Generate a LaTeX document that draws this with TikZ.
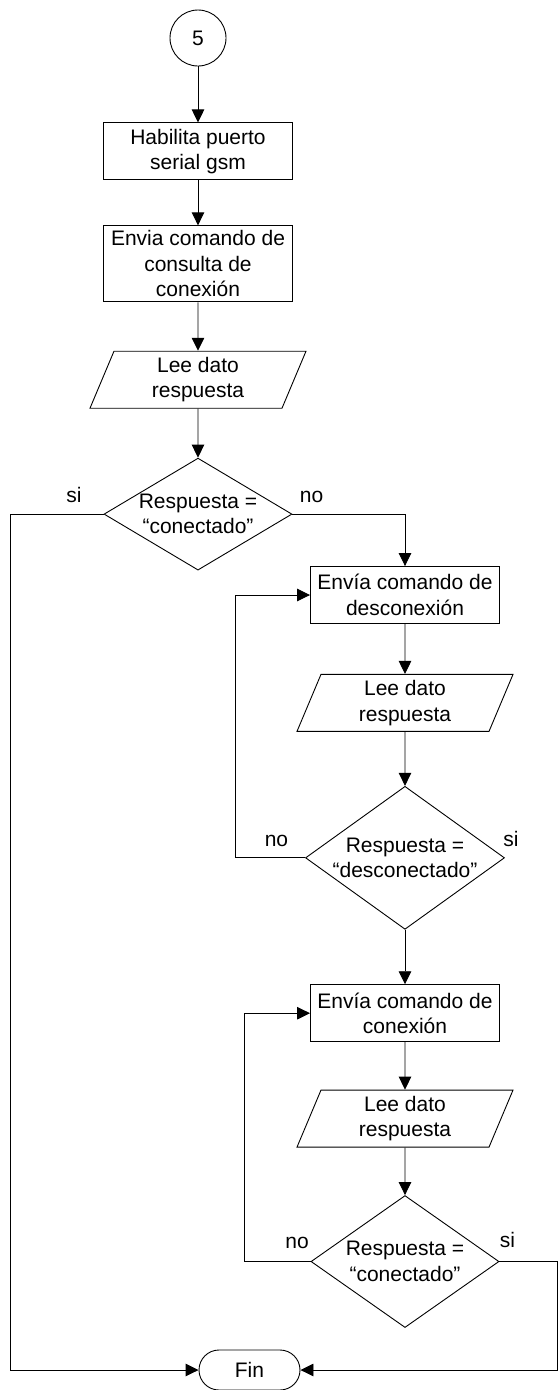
\documentclass[tikz,border=0pt]{standalone}
\usepackage{fontspec}
\setmainfont{Liberation Sans}
\usetikzlibrary{positioning,shapes.geometric,arrows.meta}
\newcommand{\zw}[1]{\makebox[0pt]{#1}}
\tikzset{
flow/.style={
  draw,
  line width=0.9pt,
  font=\fontsize{21}{25.5}\selectfont,
  align=center
  },
proc/.style={
  flow,
  rectangle,
  minimum width=189pt,
  minimum height=57pt,
  inner sep=1pt
  },
dat/.style={
  flow,
  trapezium,
  trapezium left angle=63,
  trapezium right angle=117,
  trapezium stretches body,
  minimum width=216pt,
  minimum height=57pt,
  inner sep=1pt
  },
dec/.style 2 args={
  flow,
  diamond,
  minimum width=#1,
  minimum height=#2,
  inner sep=0pt
  },
conn/.style={
  flow,
  circle,
  minimum size=56pt,
  inner sep=0pt
  },
term/.style={
  flow,
  rectangle,
  rounded corners=20pt,
  minimum width=101pt,
  minimum height=40pt,
  inner sep=0pt
  },
lbl/.style={
  font=\fontsize{21}{25.5}\selectfont,
  anchor=base,
  inner sep=0pt
  },
line/.style={line width=0.9pt}
}

\begin{document}
\begin{tikzpicture}[x=1pt,y=1pt,>={Triangle[length=13pt,width=12.5pt]}]

\useasboundingbox (0,0) rectangle (558,-1390);

\node[conn] (con5) at (198,-38) {5};
\node[proc,below=56pt of con5] (box1) {Habilita puerto\\serial gsm};
\node[proc,minimum height=76pt,below=45pt of box1] (box2) {Envia comando de\\consulta de\\conexión};
\node[dat,below=48.5pt of box2] (dat1) {Lee dato\\respuesta};
\node[dec={188pt}{112pt},below=49pt of dat1] (dec1) {\zw{Respuesta =}\\\zw{“conectado”}};

\node[proc] (box3) at (405,-595) {Envía comando de\\desconexión};
\node[dat,below=50pt of box3] (dat2) {Lee dato\\respuesta};
\node[dec={199pt}{143pt},below=54pt of dat2] (dec2) {\zw{Respuesta =}\\\zw{“desconectado”}};

\node[proc,below=54.5pt of dec2] (box4) {Envía comando de\\conexión};
\node[dat,below=47.5pt of box4] (dat3) {Lee dato\\respuesta};
\node[dec={188pt}{132pt},below=47.5pt of dat3] (dec3) {\zw{Respuesta =}\\\zw{“conectado”}};

\node[term] (fin) at (249.5,-1370) {Fin};

\coordinate (railL) at (10,0);
\coordinate (railA) at (235,0);
\coordinate (railB) at (244,0);
\coordinate (railR) at (557,0);

\node[lbl] (si1) at (74,-502.5) {si};
\node[lbl] (no1) at (311.5,-502.5) {no};
\node[lbl] (no2) at (276.5,-846.5) {no};
\node[lbl] (si2) at (511,-846.5) {si};
\node[lbl] (no3) at (297,-1248) {no};
\node[lbl] (si3) at (507.5,-1247) {si};

\draw[line,->] (con5) -- (box1);
\draw[line,->] (box1) -- (box2);
\draw[line,->] (box2) -- (dat1);
\draw[line,->] (dat1) -- (dec1);
\draw[line,->] (dec1.west) -- (dec1.west -| railL) |- (fin.west);
\draw[line,->] (dec1.east) -| (box3.north);

\draw[line,->] (box3) -- (dat2);
\draw[line,->] (dat2) -- (dec2);
\draw[line,->] (dec2.west) -- (dec2.west -| railA) |- (box3.west);
\draw[line,->] (dec2) -- (box4);

\draw[line,->] (box4) -- (dat3);
\draw[line,->] (dat3) -- (dec3);
\draw[line,->] (dec3.west) -- (dec3.west -| railB) |- (box4.west);
\draw[line,->] (dec3.east) -- (dec3.east -| railR) |- (fin.east);

\end{tikzpicture}
\end{document}
